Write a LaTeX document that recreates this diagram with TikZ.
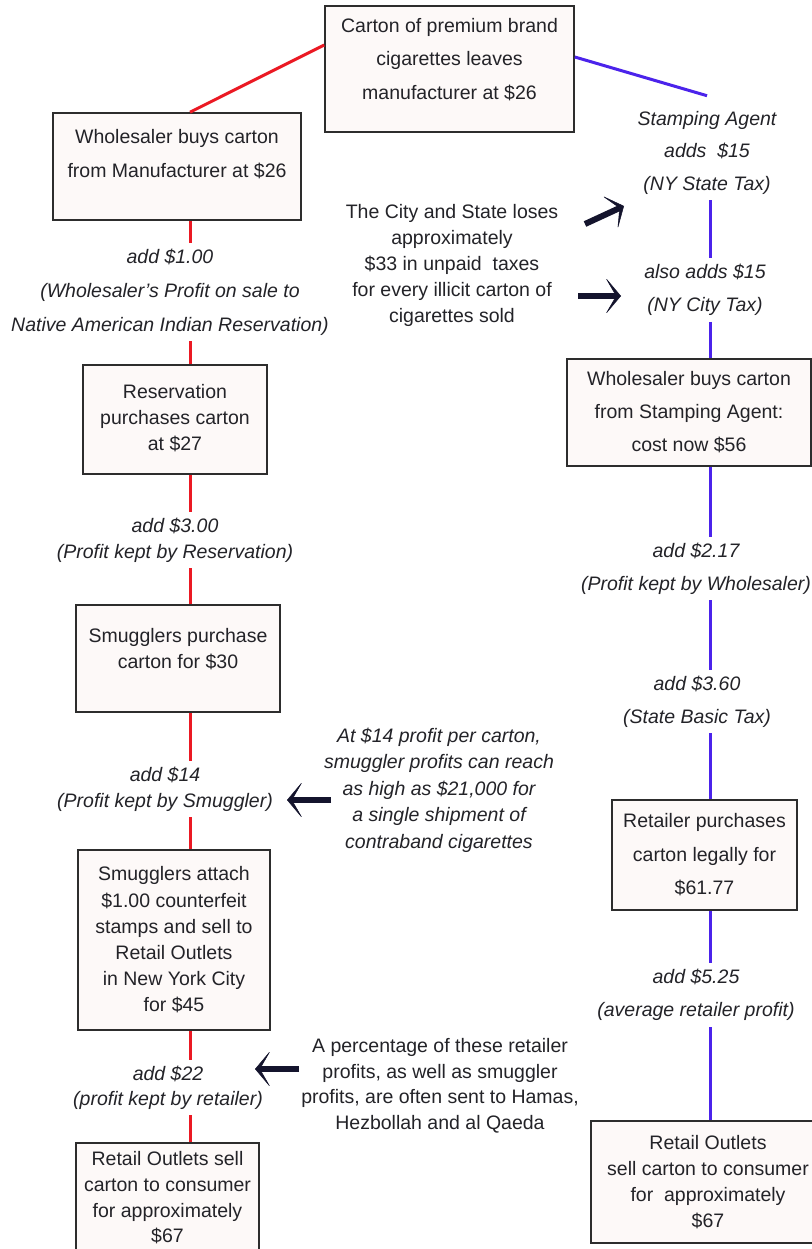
\documentclass[tikz,border=0pt]{standalone}
\usepackage{fontspec}
\setmainfont{Liberation Sans}
\usetikzlibrary{arrows.meta,calc}
\definecolor{linkred}{RGB}{235,25,35}
\definecolor{linkblue}{RGB}{75,35,235}
\definecolor{arrownavy}{RGB}{20,20,45}
\definecolor{boxline}{RGB}{45,45,45}
\definecolor{cartonfill}{RGB}{253,249,248}
\definecolor{inktext}{RGB}{35,35,40}
\newcommand{\padbelow}[1]{\rule[-#1]{0pt}{#1}}

\tikzset{
  pricebox/.style={draw=boxline, line width=1.6pt, fill=cartonfill, text=inktext,
    align=center, inner sep=0pt, font=\fontsize{19.5}{#1}\selectfont},
  pricebox/.default=26,
  taglabel/.style={text=inktext, align=center, inner xsep=2pt, inner ysep=6pt,
    font=\fontsize{19.5}{#1}\selectfont\itshape},
  taglabel/.default=26,
  notetext/.style={text=inktext, align=center, inner sep=2pt,
    font=\fontsize{19.5}{#1}\selectfont},
  notetext/.default=26,
  redlink/.style={linkred, line width=3pt},
  bluelink/.style={linkblue, line width=3pt},
  bigarrow/.style={arrownavy, line width=6pt,
    -{Stealth[length=16pt, width=38pt, inset=11pt, line width=0.5pt]}}
}

\begin{document}
\begin{tikzpicture}[x=1pt, y=-1pt]

    % Canvas
    \fill[white] (0,0) rectangle (811,1249);
    \useasboundingbox (0,0) rectangle (811,1249);

    % Source carton
    \node[pricebox=33.5, minimum width=249pt, minimum height=126pt] (maker) at (449.5,69)
      {Carton of premium brand\\cigarettes leaves\\manufacturer at \$26\padbelow{21pt}};

    % Illicit route (left column)
    \node[pricebox=34, minimum width=248pt, minimum height=107pt] (wholeL) at (177,166.5)
      {Wholesaler buys carton\\from Manufacturer at \$26\padbelow{27pt}};
    \node[taglabel=34] (add1) at (170,292)
      {add \$1.00\\(Wholesaler's Profit on sale to\\Native American Indian Reservation)};
    \node[pricebox, minimum width=184pt, minimum height=109pt] (reserv) at (175,419.5)
      {Reservation\\purchases carton\\at \$27\padbelow{5pt}};
    \node[taglabel] (add3) at (175,540)
      {add \$3.00\\(Profit kept by Reservation)};
    \node[pricebox, minimum width=204pt, minimum height=107pt] (smugP) at (178,658.5)
      {Smugglers purchase\\carton for \$30\padbelow{21pt}};
    \node[taglabel] (add14) at (165,789)
      {add \$14\\(Profit kept by Smuggler)};
    \node[pricebox=26.2, minimum width=192pt, minimum height=180pt] (smugA) at (174,940)
      {Smugglers attach\\\$1.00 counterfeit\\stamps and sell to\\Retail Outlets\\in New York City\\for \$45};
    \node[taglabel=25] (add22) at (168,1087.5)
      {add \$22\\(profit kept by retailer)};
    \node[pricebox=25.7, minimum width=183pt, minimum height=110pt] (retL) at (167.5,1198)
      {Retail Outlets sell\\carton to consumer\\for approximately\\\$67};

    % Legal route (right column)
    \node[taglabel=32.5] (stamp) at (707,152.5)
      {Stamping Agent\\adds\ \ \$15\\(NY State Tax)};
    \node[taglabel=33] (also) at (705,290)
      {also adds \$15\\(NY City Tax)};
    \node[pricebox=33, minimum width=244pt, minimum height=107pt] (wholeR) at (689,412.5)
      {Wholesaler buys carton\\from Stamping Agent:\\cost now \$56};
    \node[taglabel=33] (add217) at (696,568.5)
      {add \$2.17\\(Profit kept by Wholesaler)};
    \node[taglabel=33] (add360) at (697,701.5)
      {add \$3.60\\(State Basic Tax)};
    \node[pricebox=33.5, minimum width=185pt, minimum height=110pt] (retR) at (704.5,855)
      {Retailer purchases\\carton legally for\\\$61.77};
    \node[taglabel=33.5] (add525) at (696,995)
      {add \$5.25\\(average retailer profit)};
    \node[pricebox, minimum width=234pt, minimum height=122pt] (outR) at (708,1182)
      {Retail Outlets\\sell carton to consumer\\for\ \ approximately\\\$67};

    % Side notes (middle)
    \node[notetext] (lossNote) at (452,265.5)
      {The City and State loses\\approximately\\\$33 in unpaid\ \ taxes\\for every illicit carton of\\cigarettes sold};
    \node[taglabel=26.5, inner ysep=2pt] (profitNote) at (439,790)
      {At \$14 profit per carton,\\smuggler profits can reach\\as high as \$21,000 for\\a single shipment of\\contraband cigarettes};
    \node[notetext=25.5] (terrorNote) at (440,1086)
      {A percentage of these retailer\\profits, as well as smuggler\\profits, are often sent to Hamas,\\Hezbollah and al Qaeda};

    % Chain connectors
    \coordinate (redx) at (190,0);
    \coordinate (bluex) at (710,0);
    \draw[redlink] ([yshift=24pt]maker.west) -- (wholeL.north -| redx);
    \draw[bluelink] ([yshift=12pt]maker.east) -- ([yshift=9pt]stamp.north);
    \foreach \a/\b in {wholeL/add1, add1/reserv, reserv/add3, add3/smugP,
                       smugP/add14, add14/smugA, smugA/add22, add22/retL}{
      \draw[redlink] (\a.south -| redx) -- (\b.north -| redx);
    }
    \foreach \a/\b in {stamp/also, also/wholeR, wholeR/add217, add217/add360,
                       add360/retR, retR/add525, add525/outR}{
      \draw[bluelink] (\a.south -| bluex) -- (\b.north -| bluex);
    }

    % Pointer arrows
    \coordinate (lossTailA) at (585,224);
    \coordinate (lossTipA) at (624,206);
    \coordinate (lossTailB) at (578,296);
    \coordinate (lossTipB) at (621,296);
    \coordinate (profitTail) at (331,800);
    \coordinate (profitTip) at (287,800);
    \coordinate (terrorTail) at (299,1069);
    \coordinate (terrorTip) at (255,1069);
    \draw[bigarrow] (lossTailA) -- (lossTipA);
    \draw[bigarrow] (lossTailB) -- (lossTipB);
    \draw[bigarrow] (profitTail) -- (profitTip);
    \draw[bigarrow] (terrorTail) -- (terrorTip);

  \end{tikzpicture}
\end{document}
